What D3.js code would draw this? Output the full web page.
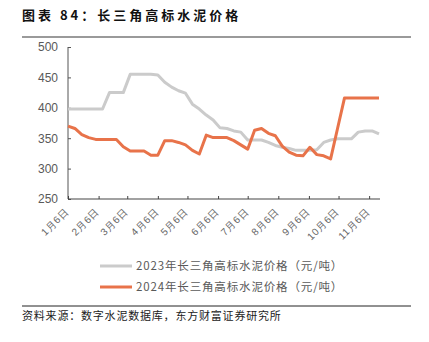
<!DOCTYPE html>
<html><head><meta charset="utf-8">
<script src="https://cdn.jsdelivr.net/npm/d3@7"></script>
<style>
body{margin:0;background:#fff;}
svg{display:block;font-family:"Noto Sans CJK SC","Noto Sans",sans-serif;}
</style></head>
<body><svg id="c" width="429" height="342"></svg>
<script>
// weekly observations starting 1月6日
const weekStart = [2024, 0, 6];
const price2023 = [398,398,398,398,398,398,425,425,425,455,455,455,455,454,442,434,428,424,406,398,388,380,367,366,362,360,347,347,347,343,338,335,333,330,330,330,331,343,347,349,349,349,360,362,362,357];
const price2024 = [370,366,356,351,348,348,348,348,336,329,329,329,322,322,346,346,343,339,330,324,355,351,351,351,346,339,332,363,366,358,354,337,327,322,321,335,323,321,316,366,416,416,416,416,416,416];
const tickLabels = ["1月6日","2月6日","3月6日","4月6日","5月6日","6月6日","7月6日","8月6日","9月6日","10月6日","11月6日"];
const yTicks = [250,300,350,400,450,500];
const seriesNames = ["2023年长三角高标水泥价格（元/吨）","2024年长三角高标水泥价格（元/吨）"];
const colors = ["#cbcbcb","#e8734a"];
const title = "图表 84：长三角高标水泥价格";
const source = "资料来源：数字水泥数据库，东方财富证券研究所";

const svg = d3.select("#c");
const dates = price2023.map((_, i) => new Date(weekStart[0], weekStart[1], weekStart[2] + 7 * i));
const tickDates = tickLabels.map((_, m) => new Date(weekStart[0], m, 6));

const x = d3.scaleTime().domain([dates[0], new Date(2024, 10, 17)]).range([68, 380]);
const y = d3.scaleLinear().domain([250, 500]).range([199, 47]);

// title
svg.append("text").attr("x", 22).attr("y", 20).attr("font-size", 13).attr("font-weight", "bold")
  .attr("fill", "#111").attr("letter-spacing", 3).text(title);
svg.append("line").attr("x1", 22).attr("x2", 411).attr("y1", 37).attr("y2", 37)
  .attr("stroke", "#9a9a9a").attr("stroke-width", 2);

// axes
const yAxis = svg.append("g").attr("transform", "translate(68,0)")
  .call(d3.axisLeft(y).tickValues(yTicks).tickSize(-3).tickPadding(10));
yAxis.select(".domain").attr("stroke", "#555").attr("d", `M0,${y(500)}V${y(250)}`);
yAxis.selectAll(".tick line").attr("stroke", "#555");
yAxis.selectAll("text").attr("font-size", 12).attr("fill", "#595959").attr("font-family", "Liberation Sans, Arial, sans-serif");

const xAxis = svg.append("g").attr("transform", "translate(0,199)")
  .call(d3.axisBottom(x).tickValues(tickDates).tickSize(-3).tickFormat((d, i) => tickLabels[i]));
xAxis.select(".domain").attr("stroke", "#444").attr("stroke-width", 1.2).attr("d", `M68,0H380`);
xAxis.selectAll(".tick line").attr("stroke", "#444");
xAxis.selectAll("text").attr("font-size", 10).attr("fill", "#666").attr("letter-spacing", 0.8)
  .attr("text-anchor", "end").attr("dy", null).attr("y", 0)
  .attr("transform", "translate(1,13) rotate(-45)");

// lines
const line = d3.line().x((d, i) => x(dates[i])).y(d => y(d));
[price2023, price2024].forEach((s, k) => {
  svg.append("path").datum(s).attr("fill", "none").attr("stroke", colors[k])
    .attr("stroke-width", 3).attr("stroke-linejoin", "round").attr("d", line);
});

// legend
seriesNames.forEach((n, k) => {
  const ly = 266 + k * 21;
  svg.append("line").attr("x1", 100).attr("x2", 132).attr("y1", ly).attr("y2", ly)
    .attr("stroke", colors[k]).attr("stroke-width", 3);
  svg.append("text").attr("x", 136).attr("y", ly + 4).attr("font-size", 11.5)
    .attr("fill", "#595959").attr("letter-spacing", 0.85).text(n);
});

// source
svg.append("line").attr("x1", 22).attr("x2", 411).attr("y1", 306).attr("y2", 306)
  .attr("stroke", "#222").attr("stroke-width", 1);
svg.append("text").attr("x", 22).attr("y", 320).attr("font-size", 11)
  .attr("fill", "#222").attr("letter-spacing", 0.8).text(source);
</script></body></html>
